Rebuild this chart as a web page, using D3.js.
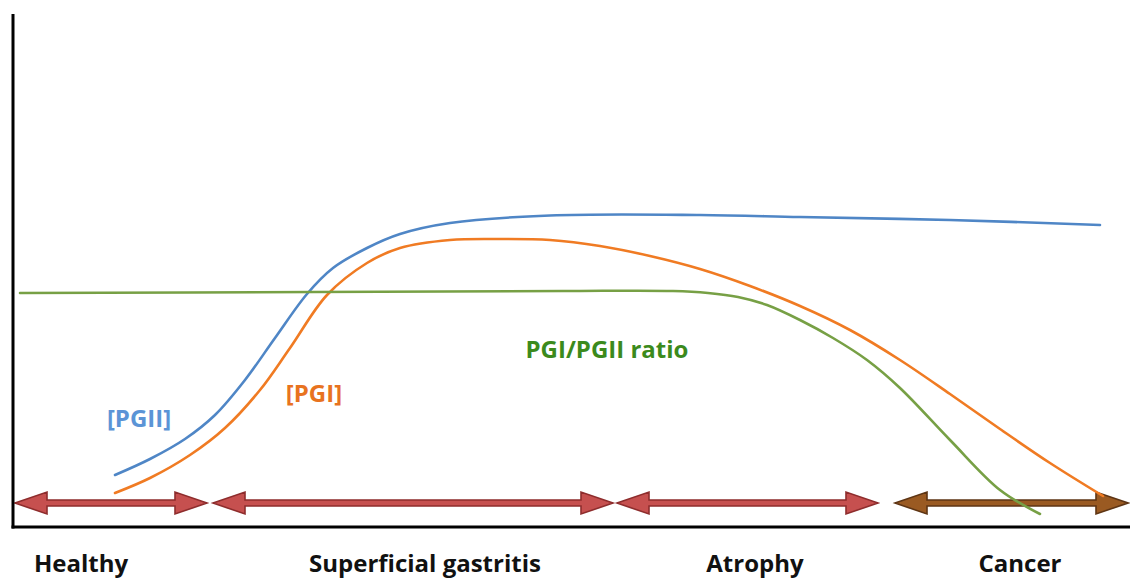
<!DOCTYPE html>
<html>
<head>
<meta charset="utf-8">
<script src="https://cdn.jsdelivr.net/npm/d3@7"></script>
<style>
  body { margin: 0; background: #fff; }
  svg { display: block; font-family: "Open Sans", Lato, sans-serif; }
</style>
</head>
<body>
<div id="chart"></div>
<script>
// progression (x) vs relative level (y)
const pgiiX = [10.2, 13.7, 17.2, 20.2, 23.2, 26.2, 29.4, 32, 35.4, 38.7, 43.7, 53.7, 68.7, 78.7, 93.7, 108.7];
const pgiiY = [10.4, 13.6, 17.6, 22.4, 29.4, 37.8, 46.6, 51.8, 55.8, 58.6, 60.8, 62.3, 62.4, 62, 61.4, 60.4];

const pgiX = [10.2, 13.7, 17.7, 21.2, 24.7, 27.7, 31.4, 35.4, 38.7, 43.7, 48.7, 53.7, 58.7, 63.7, 68.7, 73.7, 78.7, 83.7, 88.7, 93.7, 98.7, 103.7, 109];
const pgiY = [6.8, 9.8, 14.4, 19.8, 27.4, 35.8, 46.4, 52.8, 55.8, 57.4, 57.6, 57.4, 56.2, 54.2, 51.6, 48.2, 44.2, 39.4, 33.4, 26.6, 19.6, 12.8, 6.2];

const ratioX = [0.7, 30, 55, 66, 69.5, 72.5, 75.4, 78.7, 82, 85.4, 88.7, 93.7, 98.7, 102.7];
const ratioY = [46.8, 47, 47.2, 47.2, 46.8, 46, 44.4, 41.4, 37.8, 33.4, 27.8, 17.4, 7.4, 2.6];

const stages = ["Healthy", "Superficial gastritis", "Atrophy", "Cancer"];
const stageStart = [0.2, 20, 60.4, 88.2];
const stageEnd = [19.4, 60, 86.5, 111.5];
const stageMid = [6.8, 41.2, 74.2, 100.7];

const seriesLabels = ["[PGII]", "[PGI]", "PGI/PGII ratio"];
const labelX = [12.6, 30.1, 59.4];
const labelY = [20, 25, 33.8];

const width = 1130;
const height = 580;
const margin = { top: 14, right: 0, bottom: 53, left: 13 };

const svg = d3.select("#chart").append("svg")
  .attr("width", width)
  .attr("height", height);

const x = d3.scaleLinear()
  .domain([0, 111.7])
  .range([margin.left, width - margin.right]);
const y = d3.scaleLinear()
  .domain([0, 102.6])
  .range([height - margin.bottom, margin.top]);

const colors = ["#4f86c6", "#f07b23", "#77a045"];
const textColors = ["#5b94d6", "#e8731f", "#3b8a1c"];

// curves
const line = d3.line()
  .x((d) => x(d[0]))
  .y((d) => y(d[1]))
  .curve(d3.curveCatmullRom.alpha(0.5));

const series = [
  d3.zip(pgiiX, pgiiY),
  d3.zip(pgiX, pgiY),
  d3.zip(ratioX, ratioY),
];

// stage arrows
const headLen = 32, headHalf = 11, shaftHalf = 3;
const arrowPath = (a, b, cy) => {
  const p = d3.path();
  p.moveTo(a, cy);
  p.lineTo(a + headLen, cy - headHalf);
  p.lineTo(a + headLen, cy - shaftHalf);
  p.lineTo(b - headLen, cy - shaftHalf);
  p.lineTo(b - headLen, cy - headHalf);
  p.lineTo(b, cy);
  p.lineTo(b - headLen, cy + headHalf);
  p.lineTo(b - headLen, cy + shaftHalf);
  p.lineTo(a + headLen, cy + shaftHalf);
  p.lineTo(a + headLen, cy + headHalf);
  p.closePath();
  return p.toString();
};

const arrowY = y(4.8);

svg.append("g").selectAll("path")
  .data(stages)
  .join("path")
  .attr("d", (d, i) => arrowPath(x(stageStart[i]), x(stageEnd[i]), arrowY))
  .attr("fill", (d, i) => (i === 3 ? "#9a5a22" : "#c6504f"))
  .attr("stroke", (d, i) => (i === 3 ? "#5e3514" : "#8e2d2d"))
  .attr("stroke-width", 1.6)
  .attr("stroke-linejoin", "miter");

svg.append("g").selectAll("path")
  .data(series)
  .join("path")
  .attr("d", line)
  .attr("fill", "none")
  .attr("stroke", (d, i) => colors[i])
  .attr("stroke-width", 2.6)
  .attr("stroke-linecap", "round");

// axes (plain lines, no ticks)
svg.append("line")
  .attr("x1", x(0)).attr("x2", x(0))
  .attr("y1", y(102.6)).attr("y2", y(0) + 1.5)
  .attr("stroke", "#000").attr("stroke-width", 3);
svg.append("line")
  .attr("x1", x(0) - 1.5).attr("x2", x(111.7))
  .attr("y1", y(0)).attr("y2", y(0))
  .attr("stroke", "#000").attr("stroke-width", 3);

// series labels
svg.append("g").selectAll("text")
  .data(seriesLabels)
  .join("text")
  .attr("x", (d, i) => x(labelX[i]))
  .attr("y", (d, i) => y(labelY[i]))
  .attr("text-anchor", "middle")
  .attr("fill", (d, i) => textColors[i])
  .attr("font-weight", "bold")
  .attr("font-size", 24)
  .text((d) => d);

// stage labels
svg.append("g").selectAll("text")
  .data(stages)
  .join("text")
  .attr("x", (d, i) => x(stageMid[i]))
  .attr("y", 572)
  .attr("text-anchor", "middle")
  .attr("fill", "#111")
  .attr("font-weight", "bold")
  .attr("font-size", 24)
  .text((d) => d);
</script>
</body>
</html>
